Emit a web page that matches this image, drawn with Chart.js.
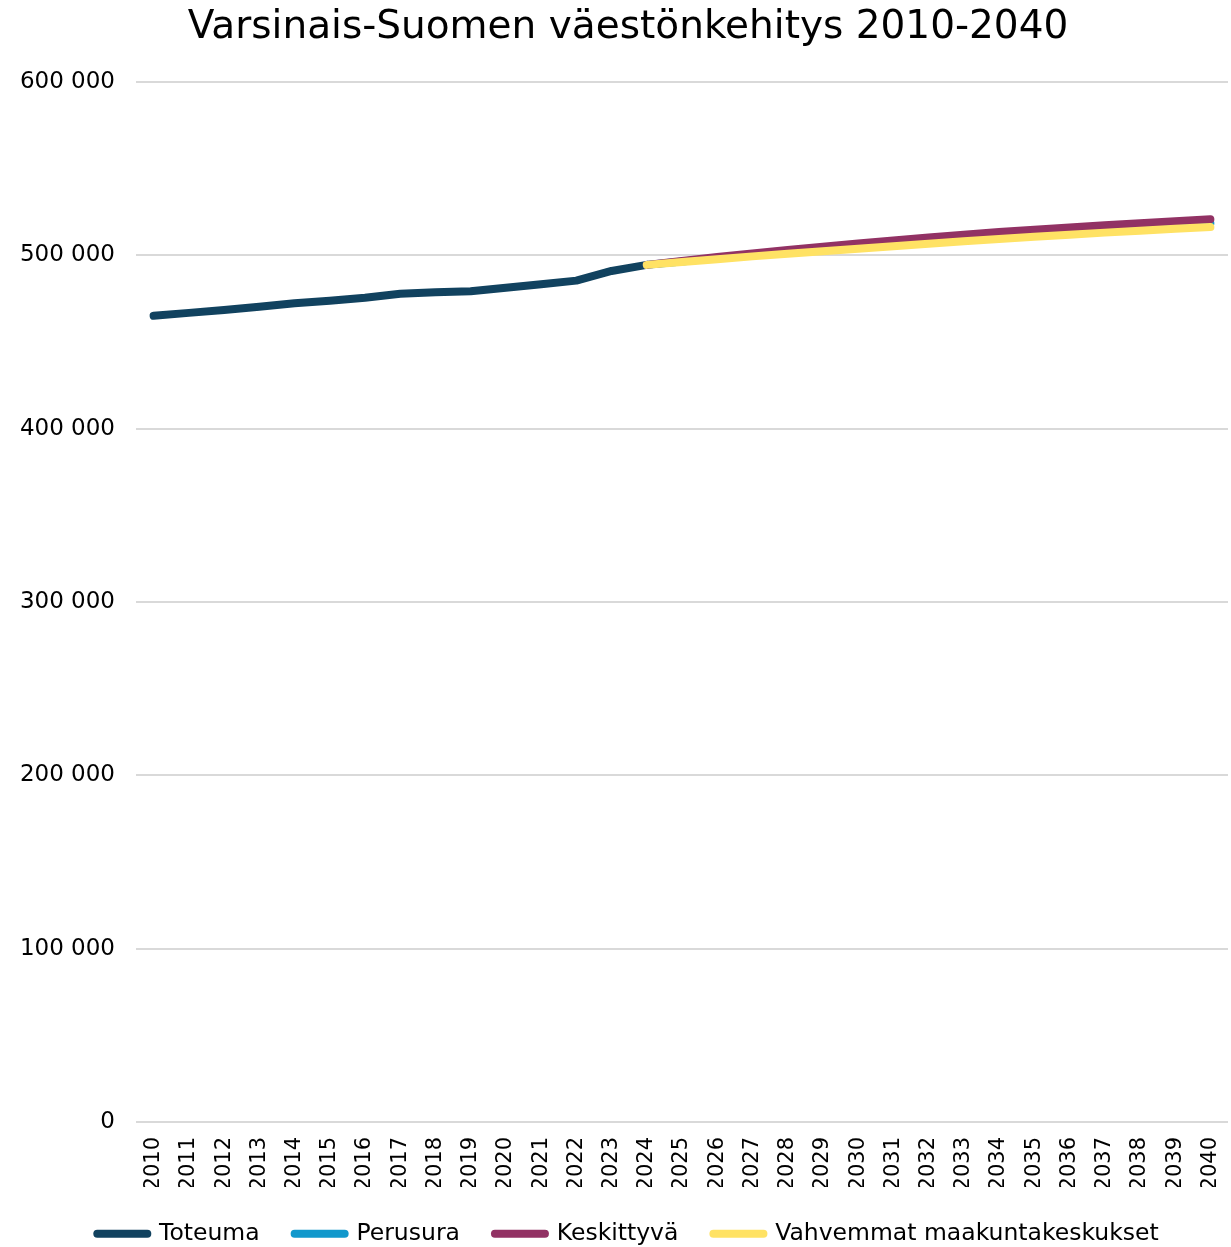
<!DOCTYPE html>
<html>
<head>
<meta charset="utf-8">
<script src="https://cdn.jsdelivr.net/npm/chart.js@4/dist/chart.umd.min.js"></script>
<style>
  html, body { margin: 0; padding: 0; background: #fff; }
  #wrap { width: 1231px; height: 1247px; }
</style>
</head>
<body>
<div id="wrap"><canvas id="grafico" width="1231" height="1247"></canvas></div>
<script>
// vuodet 2010-2040
const vuodet = [
  '2010','2011','2012','2013','2014','2015','2016','2017','2018','2019','2020',
  '2021','2022','2023','2024','2025','2026','2027','2028','2029','2030',
  '2031','2032','2033','2034','2035','2036','2037','2038','2039','2040'
];

// toteutunut väkiluku
const toteuma = [
  465100, 466800, 468500, 470300, 472300, 473800, 475500, 477800, 478700, 479300,
  481300, 483300, 485400, 491000, 494500,
  null, null, null, null, null, null, null, null, null, null, null, null, null, null, null, null
];

const tyhjat = [null, null, null, null, null, null, null, null, null, null, null, null, null, null];

// skenaariot 2024-2040
const perusura = tyhjat.concat([
  494500, 496500, 498400, 500200, 502000, 503700, 505300, 506900, 508500,
  510000, 511400, 512800, 514000, 515300, 516400, 517500, 518600
]);
const keskittyva = tyhjat.concat([
  494500, 496800, 499000, 501100, 503100, 505000, 506800, 508600, 510300,
  511900, 513400, 514800, 516100, 517300, 518500, 519700, 520800
]);
const vahvemmat = tyhjat.concat([
  494500, 496200, 497800, 499400, 500900, 502300, 503800, 505300, 506700,
  508100, 509400, 510700, 511900, 513100, 514200, 515300, 516300
]);

const yTicks = [0, 100000, 200000, 300000, 400000, 500000, 600000];

const FONT = "'DejaVu Sans', sans-serif";

function fmt(v) {
  return String(v).replace(/\B(?=(\d{3})+(?!\d))/g, ' ');
}

// order: pienempi piirretään päällimmäiseksi
function sarja(label, data, color, order) {
  return {
    label: label,
    data: data,
    order: order,
    borderColor: color,
    backgroundColor: color,
    borderWidth: 8,
    borderCapStyle: 'round',
    borderJoinStyle: 'round',
    pointRadius: 0,
    pointHoverRadius: 0,
    tension: 0,
    spanGaps: false
  };
}

// y-akselin tekstit eivät saa leikkautua vasemmasta reunasta
const yClipFix = {
  id: 'yClipFix',
  afterLayout: function(c) {
    c.scales.y.left = 0;
  }
};

const ctx = document.getElementById('grafico').getContext('2d');
const chart = new Chart(ctx, {
  type: 'line',
  data: {
    labels: vuodet,
    datasets: [
      sarja('Toteuma', toteuma, '#11425f', 3),
      sarja('Perusura', perusura, '#1198cc', 2),
      sarja('Keskittyvä', keskittyva, '#923264', 1),
      sarja('Vahvemmat maakuntakeskukset', vahvemmat, '#ffe264', 0)
    ]
  },
  plugins: [yClipFix],
  options: {
    responsive: false,
    animation: false,
    layout: { padding: { left: 28, right: 3, top: 0, bottom: -8.5 } },
    plugins: {
      title: {
        display: true,
        text: 'Varsinais-Suomen väestönkehitys 2010-2040',
        color: '#000',
        font: { family: FONT, size: 39, weight: 'normal' },
        padding: { top: 4, bottom: 31.2 }
      },
      legend: {
        position: 'bottom',
        labels: {
          color: '#000',
          font: { family: FONT, size: 23.5 },
          usePointStyle: true,
          pointStyle: 'line',
          pointStyleWidth: 50,
          boxWidth: 50,
          padding: 35,
          sort: function(a, b) { return a.datasetIndex - b.datasetIndex; },
          generateLabels: function(c) {
            return Chart.defaults.plugins.legend.labels.generateLabels(c).map(function(l) {
              l.lineWidth = 8;
              l.lineCap = 'round';
              l.pointStyle = 'line';
              return l;
            });
          }
        }
      },
      tooltip: { enabled: false }
    },
    scales: {
      x: {
        offset: true,
        grid: { display: false },
        border: { display: false },
        afterFit: function(s) {
          s.height = 65;
          s.paddingLeft = 0;
          s.paddingRight = 0;
        },
        ticks: {
          color: '#000',
          font: { family: FONT, size: 21 },
          minRotation: 90,
          maxRotation: 90,
          autoSkip: false,
          padding: 7
        }
      },
      y: {
        min: 0,
        max: 600000,
        afterBuildTicks: function(s) {
          s.ticks = yTicks.map(function(v) { return { value: v }; });
        },
        afterFit: function(s) {
          s.width = 108;
          s.paddingTop = 0;
          s.paddingBottom = 0;
        },
        grid: { color: '#d9d9d9', lineWidth: 2, drawTicks: false },
        border: { display: false },
        ticks: {
          color: '#000',
          font: { family: FONT, size: 23 },
          padding: 21,
          callback: function(v) { return fmt(v); }
        }
      }
    }
  }
});
</script>
</body>
</html>
